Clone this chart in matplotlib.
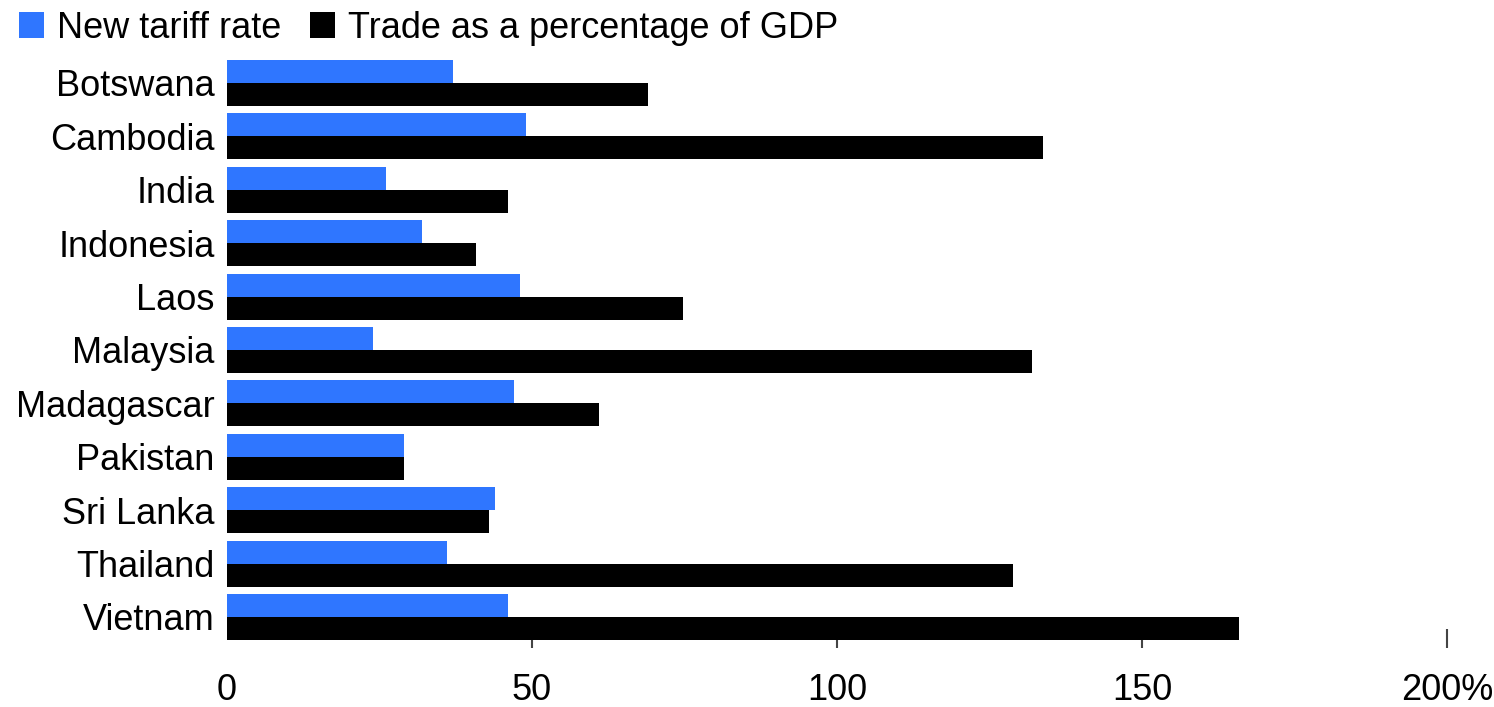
import matplotlib
matplotlib.use("Agg")
import matplotlib.pyplot as plt
import numpy as np

plt.rcParams["font.family"] = ["Liberation Sans", "DejaVu Sans"]

countries = ["Botswana", "Cambodia", "India", "Indonesia", "Laos", "Malaysia",
             "Madagascar", "Pakistan", "Sri Lanka", "Thailand", "Vietnam"]
tariff_rate = [37, 49, 26, 32, 48, 24, 47, 29, 44, 36, 46]
trade_pct_gdp = [69.0, 133.8, 46.0, 40.8, 74.8, 131.9, 61.0, 29.0, 42.9, 128.8, 165.9]
x_ticks = [0, 50, 100, 150, 200]
x_tick_labels = ["0", "50", "100", "150", "200%"]

BLUE = "#2f76ff"
FS = 26

fig = plt.figure(figsize=(14.94, 7.07), dpi=100)
ax = fig.add_axes([0.152, 0.0835, 0.8246, 0.837])

y = np.arange(len(countries))
h = 0.43
ax.barh(y - h / 2, tariff_rate, height=h, color=BLUE, label="New tariff rate", zorder=3)
ax.barh(y + h / 2, trade_pct_gdp, height=h, color="black",
        label="Trade as a percentage of GDP", zorder=3)

ax.set_ylim(10.58, -0.5)
ax.set_xlim(0, 202)

ax.set_yticks(y)
ax.set_yticklabels(countries, fontsize=FS, color="black")
ax.tick_params(axis="y", length=0, pad=9)

ax.set_xticks(x_ticks)
ax.set_xticklabels(x_tick_labels, fontsize=FS, color="black")
ax.tick_params(axis="x", direction="in", length=14, width=1.5, color="#444444", pad=18)
# no tick mark at the origin
ax.xaxis.get_major_ticks()[0].tick1line.set_visible(False)

for s in ax.spines.values():
    s.set_visible(False)

ax.legend(loc="upper left", bbox_to_anchor=(0.0125, 0.985), bbox_transform=fig.transFigure,
          ncol=2, frameon=False, fontsize=FS, handlelength=0.7, handleheight=0.7,
          handletextpad=0.36, columnspacing=0.8, borderpad=0, borderaxespad=0)

fig.savefig("out.png", dpi=100)
